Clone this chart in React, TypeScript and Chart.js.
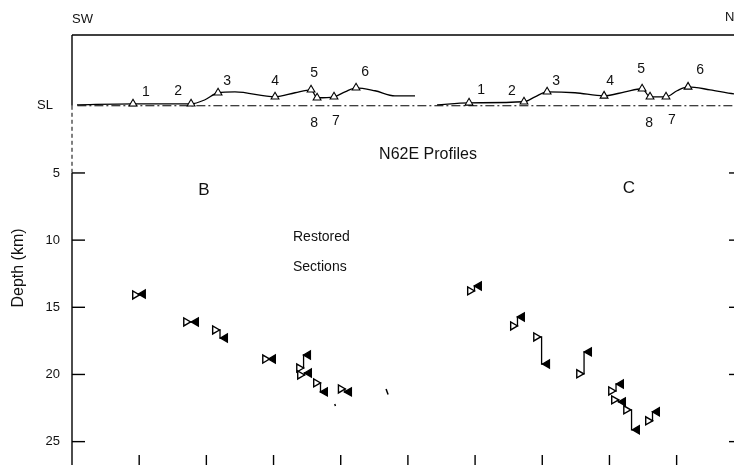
import React, { useEffect, useRef } from "react";
import { Chart, registerables } from "chart.js";

Chart.register(...registerables);

const FONT = "'Liberation Sans', Arial, Helvetica, sans-serif";

// axis ticks (km)
const depthTicks = [5, 10, 15, 20, 25];
const distanceTicks = [5, 10, 15, 20, 25, 30, 35, 40, 45];

// sea level reference line
const seaLevelX = [0.4, 49.3];
const seaLevelY = [0, 0];

// Profile B topography (distance km, elevation as negative depth km)
const topoBX = [0.37, 4.54, 8.86, 9.9, 10.87, 12.13, 15.11, 16.6, 17.79, 18.24, 19.5, 20.32, 21.14, 22.55, 24.04, 25.53];
const topoBY = [-0.07, -0.15, -0.15, -0.45, -0.97, -1.04, -0.67, -0.97, -1.19, -0.6, -0.67, -1.04, -1.34, -1.12, -0.74, -0.74];

// Profile C topography
const topoCX = [27.17, 29.55, 33.64, 34.46, 35.36, 37.44, 39.6, 41.16, 42.43, 43.02, 44.21, 45.03, 45.85, 47.49, 49.27, 50.09];
const topoCY = [-0.07, -0.22, -0.3, -0.67, -1.04, -0.97, -0.74, -1.04, -1.27, -0.67, -0.67, -1.12, -1.41, -1.19, -0.89, -0.82];

// stations (in order along profile)
const stationLabels = ["1", "2", "3", "4", "5", "8", "7", "6"];
const stationBX = [4.54, 8.86, 10.87, 15.11, 17.79, 18.24, 19.5, 21.14];
const stationBY = [-0.15, -0.15, -0.97, -0.67, -1.19, -0.6, -0.67, -1.34];
const stationCX = [29.55, 33.64, 35.36, 39.6, 42.43, 43.02, 44.21, 45.85];
const stationCY = [-0.22, -0.3, -1.04, -0.74, -1.27, -0.67, -0.67, -1.41];

// Restored sections B: open (hanging wall) and filled (footwall) markers
const openBX = [4.69, 8.49, 10.64, 14.37, 16.9, 16.97, 18.16, 20.0];
const openBY = [14.08, 16.09, 16.69, 18.85, 19.52, 20.04, 20.63, 21.08];
const filledBX = [5.28, 9.23, 11.39, 14.96, 17.57, 17.64, 18.83, 20.62];
const filledBY = [14.01, 16.09, 17.29, 18.85, 18.55, 19.89, 21.3, 21.3];

// Restored sections C
const openCX = [29.62, 32.82, 34.54, 37.74, 40.12, 40.34, 41.24, 42.87];
const openCY = [13.78, 16.39, 17.21, 19.95, 21.23, 21.89, 22.63, 23.45];
const filledCX = [30.29, 33.49, 35.36, 38.48, 40.86, 41.01, 42.05, 43.54];
const filledCY = [13.41, 15.72, 19.22, 18.32, 20.71, 22.04, 24.12, 22.78];

// stray marks in the original figure
const strayX = [19.58, 23.45];
const strayY = [22.27, 21.29];

// label pixel offsets from stations
const labelOffB: [number, number][] = [[13, -12], [-13, -13], [9, -12], [0, -16], [3, -17], [-3, 25], [2, 24], [9, -16]];
const labelOffC: [number, number][] = [[12, -13], [-12, -11], [9, -11], [6, -15], [-1, -20], [-1, 26], [6, 23], [12, -17]];

const pts = (xs: number[], ys: number[]) => xs.map((x, i) => ({ x, y: ys[i] }));

const overlay = {
  id: "overlay",
  afterDraw(chart: any) {
    const ctx = chart.ctx as CanvasRenderingContext2D;
    const { left, top, right, bottom } = chart.chartArea;
    const xs = chart.scales.x;
    const ys = chart.scales.y;
    const line = (x1: number, y1: number, x2: number, y2: number) => {
      ctx.beginPath();
      ctx.moveTo(x1, y1);
      ctx.lineTo(x2, y2);
      ctx.stroke();
    };
    ctx.save();
    ctx.strokeStyle = "#000";
    ctx.lineWidth = 1.4;
    // top border
    line(left, top, right, top);
    // left axis
    const ySL = ys.getPixelForValue(0);
    const y5 = ys.getPixelForValue(5);
    line(left, top, left, ySL);
    ctx.setLineDash([4, 3]);
    ctx.lineWidth = 1;
    line(left, ySL, left, y5);
    ctx.setLineDash([]);
    ctx.lineWidth = 1.4;
    line(left, y5, left, bottom);
    // inward ticks
    depthTicks.forEach((d) => {
      const py = ys.getPixelForValue(d);
      line(left, py, left + 13, py);
      line(right - 5, py, right, py);
    });
    distanceTicks.forEach((k) => {
      const px = xs.getPixelForValue(k);
      line(px, bottom - 10, px, bottom);
    });

    ctx.fillStyle = "#111";
    ctx.textBaseline = "middle";
    const text = (s: string, x: number, y: number, size: number, align: CanvasTextAlign = "center") => {
      ctx.font = `${size}px ${FONT}`;
      ctx.textAlign = align;
      ctx.fillText(s, x, y);
    };
    text("SW", 72, 19, 13, "left");
    text("N", 725, 17, 13, "left");
    text("SL", 45, 105, 13);
    text("N62E Profiles", 428, 155, 16);
    text("B", 204, 190, 17);
    text("C", 629, 188, 17);
    text("Restored", 293, 237, 14, "left");
    text("Sections", 293, 267, 14, "left");

    stationLabels.forEach((lab, i) => {
      const bx = xs.getPixelForValue(stationBX[i]);
      const by = ys.getPixelForValue(stationBY[i]);
      text(lab, bx + labelOffB[i][0], by + labelOffB[i][1], 14);
      const cx = xs.getPixelForValue(stationCX[i]);
      const cy = ys.getPixelForValue(stationCY[i]);
      text(lab, cx + labelOffC[i][0], cy + labelOffC[i][1], 14);
    });

    // axis title
    ctx.save();
    ctx.translate(19, 268);
    ctx.rotate(-Math.PI / 2);
    text("Depth (km)", 0, 0, 16);
    ctx.restore();
    ctx.restore();
  },
};

export default function App() {
  const ref = useRef<HTMLCanvasElement | null>(null);
  useEffect(() => {
    if (!ref.current) return;
    Chart.defaults.font.family = FONT;
    const lineDs = (label: string, data: any[], extra: any = {}) => ({
      label,
      data,
      showLine: true,
      borderColor: "#000",
      backgroundColor: "#000",
      borderWidth: 1.3,
      pointRadius: 0,
      ...extra,
    });
    const connectors = [
      ...openBX.map((x, i) =>
        lineDs("connB" + i, [{ x, y: openBY[i] }, { x: filledBX[i], y: filledBY[i] }], { stepped: "middle", order: 3 })
      ),
      ...openCX.map((x, i) =>
        lineDs("connC" + i, [{ x, y: openCY[i] }, { x: filledCX[i], y: filledCY[i] }], { stepped: "middle", order: 3 })
      ),
    ];
    const chart = new Chart(ref.current, {
      type: "scatter",
      data: {
        datasets: [
          lineDs("SL", pts(seaLevelX, seaLevelY), { borderWidth: 1.1, borderDash: [9, 3, 2, 3], order: 6 }),
          lineDs("topoB", pts(topoBX, topoBY), { cubicInterpolationMode: "monotone", order: 5 }),
          lineDs("topoC", pts(topoCX, topoCY), { cubicInterpolationMode: "monotone", order: 5 }),
          {
            label: "stations",
            data: [...pts(stationBX, stationBY), ...pts(stationCX, stationCY)],
            pointStyle: "triangle",
            pointRadius: 4.5,
            backgroundColor: "#fff",
            borderColor: "#000",
            borderWidth: 1.1,
            order: 1,
          },
          ...connectors,
          {
            label: "open",
            data: [...pts(openBX, openBY), ...pts(openCX, openCY)],
            pointStyle: "triangle",
            rotation: 90,
            pointRadius: 4.6,
            backgroundColor: "#fff",
            borderColor: "#000",
            borderWidth: 1.4,
            order: 1,
          },
          {
            label: "filled",
            data: [...pts(filledBX, filledBY), ...pts(filledCX, filledCY)],
            pointStyle: "triangle",
            rotation: -90,
            pointRadius: 4.6,
            backgroundColor: "#000",
            borderColor: "#000",
            borderWidth: 1.4,
            order: 0,
          },
          {
            label: "stray",
            data: pts(strayX, strayY),
            pointStyle: "line",
            rotation: 70,
            pointRadius: [1, 3],
            borderColor: "#000",
            borderWidth: 1.5,
            order: 2,
          },
        ] as any,
      },
      options: {
        animation: false,
        responsive: true,
        maintainAspectRatio: false,
        events: [],
        layout: { autoPadding: false, padding: { top: 35, left: 0, right: 0, bottom: 0 } },
        plugins: { legend: { display: false }, tooltip: { enabled: false } },
        scales: {
          x: {
            type: "linear",
            display: false,
            min: 0,
            max: 49.27,
            ticks: { display: false },
            afterBuildTicks: (s: any) => {
              s.ticks = distanceTicks.map((v) => ({ value: v }));
            },
            afterFit: (s: any) => {
              s.height = 0;
              s.paddingLeft = 0;
              s.paddingRight = 0;
            },
          },
          y: {
            type: "linear",
            reverse: true,
            min: -5.27,
            max: 26.74,
            position: "left",
            grid: { display: false, drawTicks: false },
            border: { display: false },
            ticks: { color: "#111", padding: 12, font: { size: 13, family: FONT, lineHeight: 0.05 } },
            afterBuildTicks: (s: any) => {
              s.ticks = depthTicks.map((v) => ({ value: v }));
            },
            afterFit: (s: any) => {
              s.width = 72;
              s.paddingTop = 0;
              s.paddingBottom = 0;
            },
          },
        },
      },
      plugins: [overlay],
    } as any);
    return () => chart.destroy();
  }, []);
  return (
    <div style={{ position: "fixed", left: 0, top: 0, width: 734, height: 465, background: "#fff" }}>
      <canvas ref={ref} />
    </div>
  );
}
